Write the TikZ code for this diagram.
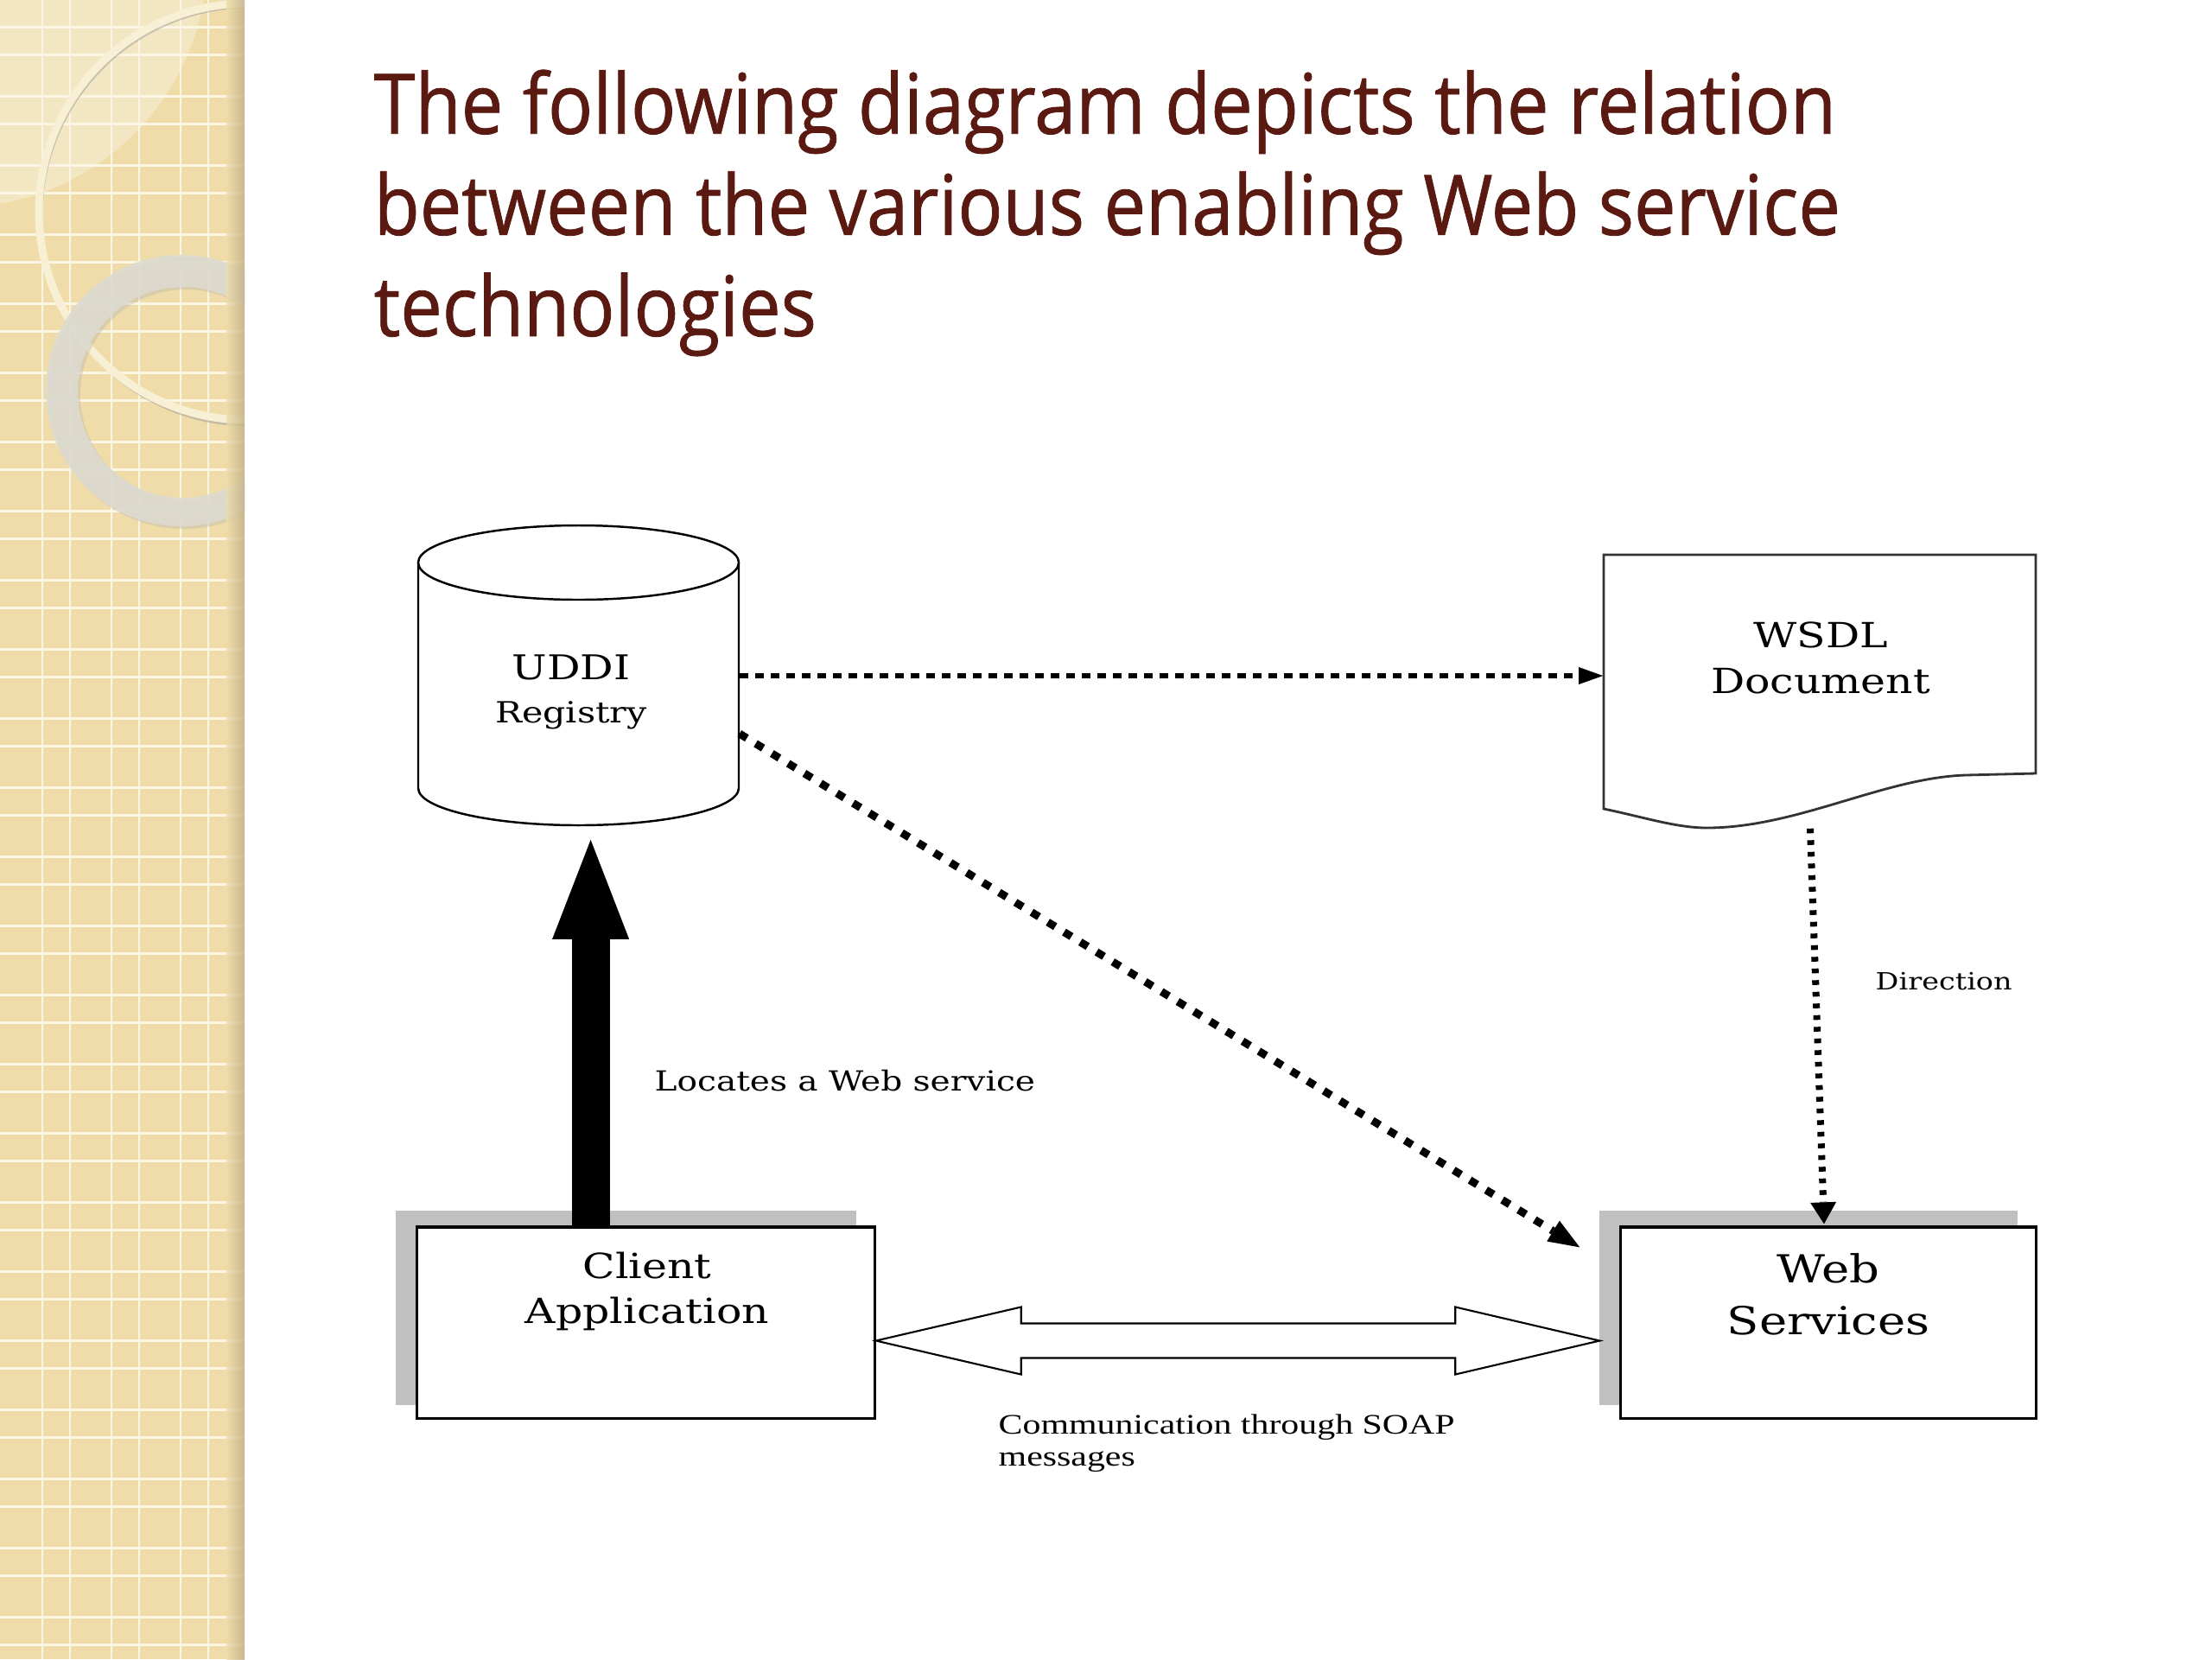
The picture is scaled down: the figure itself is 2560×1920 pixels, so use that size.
\documentclass[tikz,border=0pt]{standalone}
\usepackage{fontspec}
\setmainfont{DejaVu Serif}
\newfontfamily\titlefont[FakeStretch=0.895,FakeBold=0.8]{Open Sans}
\newfontfamily\dfont[FakeStretch=1.22]{DejaVu Serif}
\newfontfamily\tfont[FakeStretch=1.28]{Liberation Serif}
\usetikzlibrary{arrows.meta,calc}
\definecolor{titlebrown}{HTML}{5A1A12}
\definecolor{stripbg}{HTML}{EFDCA9}
\definecolor{stripline}{HTML}{FBF5E4}
\definecolor{ringcream}{HTML}{F8F0D4}
\definecolor{ringgray}{HTML}{DDDAD0}
\definecolor{boxshadow}{HTML}{C0C0C0}
\definecolor{edgeshade}{HTML}{BFAE86}
\tikzset{
  boxnode/.style={draw=black, line width=0.9pt, fill=white, inner sep=0pt},
  shapebox/.style={inner sep=0pt},
  dtext/.style={inner sep=0pt, align=center, text=black},
  dotH/.style={line width=0.065cm, dash pattern=on 0.1cm off 0.08cm, -{Triangle[length=0.28cm,width=0.2cm,line width=0pt]}},
  dotD/.style={line width=0.09cm, dash pattern=on 0.1cm off 0.12cm, -{Triangle[length=0.36cm,width=0.28cm,line width=0pt]}},
  dotV/.style={line width=0.08cm, dash pattern=on 0.055cm off 0.08cm, -{Triangle[length=0.25cm,width=0.3cm,line width=0pt]}},
  bigarrow/.style={line width=0.44cm, -{Triangle[length=1.15cm,width=0.89cm,line width=0pt]}}
}
\begin{document}
\begin{tikzpicture}[x=0.01cm, y=-0.01cm]
\useasboundingbox (0,0) rectangle (2560,1920);
\fill[white] (0,0) rectangle (2560,1920);
% ---- decorative strip ----
\begin{scope}
\clip (0,0) rectangle (283,1920);
\fill[stripbg] (0,0) rectangle (283,1920);
\fill[white, opacity=0.3] (-50,-50) circle (290);
\foreach \x in {49,81,129,161,209,241}
  \draw[stripline, line width=0.85pt] (\x,0) -- (\x,1920);
\foreach \k in {0,...,23}{
  \draw[stripline, line width=0.85pt] (0,{31+80*\k}) -- (283,{31+80*\k});
  \draw[stripline, line width=0.85pt] (0,{63+80*\k}) -- (283,{63+80*\k});
}
% thin ring
\draw[black!40, opacity=0.5, line width=0.05cm] (289,249) circle (242);
\draw[ringcream, line width=0.09cm] (286,245) circle (241);
% grey ring
\fill[black!30, opacity=0.35, even odd rule] (213,455) circle (157) (215,457) circle (122);
\fill[ringgray, opacity=0.9, even odd rule] (210,452) circle (157) (212,454) circle (122);
\shade[left color=stripbg, right color=edgeshade, opacity=0.8] (262,0) rectangle (283,1920);
\end{scope}
% ---- title ----
\node[anchor=north west, inner sep=0pt, align=left, text=titlebrown,
      font=\titlefont\fontsize{27.5}{33.3}\selectfont] (title) at (432,80)
  {The following diagram depicts the relation\\between the various enabling Web service\\technologies};
% ---- UDDI registry (cylinder) ----
\node[shapebox, minimum width=3.71cm, minimum height=3.46cm] (uddi) at (669.5,782) {};
\draw[line width=0.7pt] (484,651) -- (484,912)
  .. controls (484,935.7) and (567.1,955) .. (669.5,955)
  .. controls (771.9,955) and (855,935.7) .. (855,912) -- (855,651);
\draw[line width=0.7pt] (669.5,651) ellipse (185.5 and 43);
\node[dtext, anchor=north, font=\dfont\fontsize{11.2}{14.2}\selectfont] (uddiT) at (661,757)
  {UDDI\\{\fontsize{9.6}{14.2}\selectfont Registry}};
% ---- WSDL document ----
\node[shapebox, minimum width=5cm, minimum height=3.15cm] (wsdl) at (2106,799.5) {};
\draw[line width=0.8pt, draw=black!80] (1856,642) -- (2356,642) -- (2356,895) -- (2275,897)
  .. controls (2180,900) and (2080,958) .. (1975,958)
  .. controls (1940,958) and (1900,945) .. (1856,936) -- cycle;
\node[dtext, anchor=north, font=\dfont\fontsize{11.4}{15}\selectfont] (wsdlT) at (2107,719)
  {WSDL\\Document};
% ---- Client Application ----
\node[boxnode, minimum width=5.29cm, minimum height=2.21cm] (client) at (747.5,1530.5) {};
\fill[boxshadow] ($(client.south west)+(-23,-17)$) rectangle ($(client.north east)+(-23,-17)$);
\node[boxnode, minimum width=5.29cm, minimum height=2.21cm] (clientbox) at (client.center) {};
\node[dtext, anchor=north, font=\dfont\fontsize{11.4}{15}\selectfont] (clientT) at (749,1448)
  {Client\\Application};
% ---- Web Services ----
\node[boxnode, minimum width=4.8cm, minimum height=2.21cm] (web) at (2116,1530.5) {};
\fill[boxshadow] ($(web.south west)+(-23,-17)$) rectangle ($(web.north east)+(-23,-17)$);
\node[boxnode, minimum width=4.8cm, minimum height=2.21cm] (webbox) at (web.center) {};
\node[dtext, anchor=north, font=\dfont\fontsize{12.7}{17}\selectfont] (webT) at (2116,1450)
  {Web\\Services};
% ---- connectors ----
\coordinate (thk) at ($(client.north west)!0.38!(client.north east)$);
\draw[bigarrow] (thk) -- ($(thk |- uddi.south)+(0,16)$);
\draw[dotH] (uddi.east) -- (uddi.east -| wsdl.west);
\draw[dotD] ($(uddi.east)+(0,67)$) -- ($(web.north west)+(-46,25)$);
\draw[dotV] ($(wsdl.south)+(-11,1)$) -- ($(web.north)+(-5,-2)$);
\coordinate (dl) at ($(client.east)+(0,21)$);
\coordinate (dr) at ($(web.west)+(-23,21)$);
\filldraw[fill=white, draw=black, line width=0.6pt] (dl) -- ++(168,-39) -- ++(0,19)
  -- ($(dr)+(-167,-20)$) -- ++(0,-19) -- (dr) -- ++(-167,39) -- ++(0,-19)
  -- ($(dl)+(168,20)$) -- ++(0,19) -- cycle;
% ---- labels ----
\node[anchor=base west, inner sep=0pt, font=\dfont\fontsize{9.1}{12}\selectfont] (locT) at (757,1262)
  {Locates a Web service};
\node[anchor=base west, inner sep=0pt, font=\dfont\fontsize{7.8}{10}\selectfont] (dirT) at (2170,1145)
  {Direction};
\node[anchor=north west, inner sep=0pt, align=left, font=\tfont\fontsize{9.3}{10.5}\selectfont] (soapT) at (1155,1636)
  {Communication through SOAP\\messages};
\end{tikzpicture}
\end{document}
